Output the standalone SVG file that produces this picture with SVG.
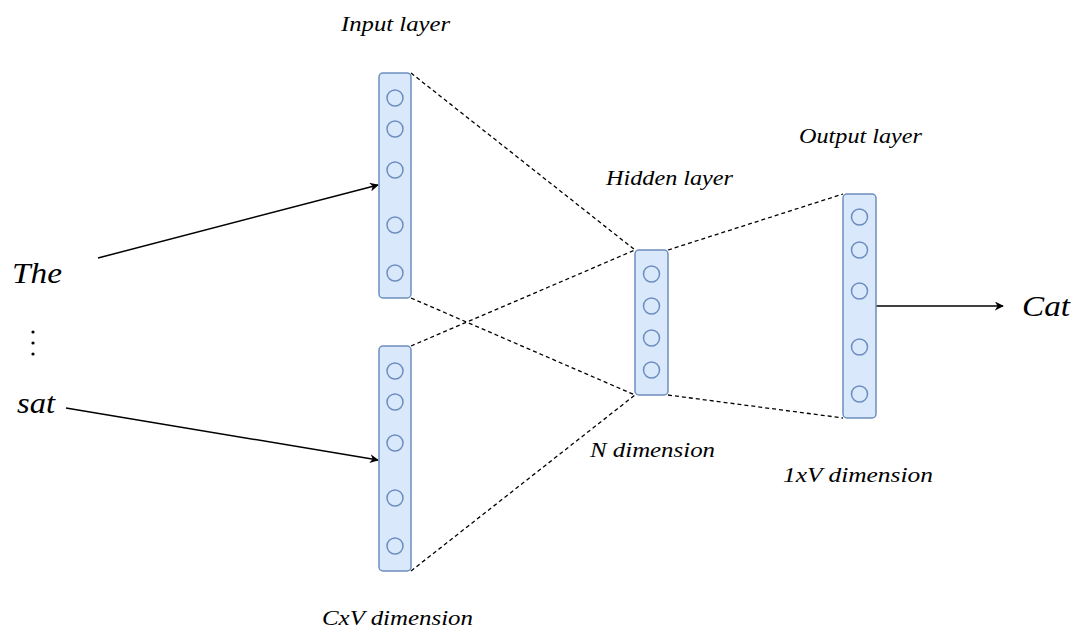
<svg xmlns="http://www.w3.org/2000/svg" width="1075" height="631" viewBox="0 0 1075 631">
<style>
.layer{fill:#dae8fc;stroke:#6c8ebf;stroke-width:1.5}
.node{fill:none;stroke:#6c8ebf;stroke-width:1.5}
.dash{stroke:#000;stroke-width:1.3;stroke-dasharray:4 3;fill:none}
.arrow{stroke:#000;stroke-width:1.5;fill:none;marker-end:url(#ah)}
.lbl{font-family:"Liberation Serif","DejaVu Serif",serif;font-style:italic;font-size:21px;fill:#000}
.word{font-family:"Liberation Serif","DejaVu Serif",serif;font-style:italic;font-size:30px;fill:#000}
</style>
<defs>
<marker id="ah" viewBox="0 0 10 10" refX="9" refY="5" markerWidth="9" markerHeight="9" markerUnits="userSpaceOnUse" orient="auto">
<path d="M0,0 L10,5 L0,10 L3,5 Z" fill="#000"/>
</marker>
</defs>
<rect width="1075" height="631" fill="#fff"/>
<g id="connectors">
<line class="dash" x1="411" y1="73" x2="635" y2="250"/>
<line class="dash" x1="411" y1="298" x2="635" y2="395"/>
<line class="dash" x1="411" y1="346" x2="635" y2="250"/>
<line class="dash" x1="411" y1="571" x2="635" y2="395"/>
<line class="dash" x1="668" y1="250" x2="843" y2="194"/>
<line class="dash" x1="668" y1="395" x2="843" y2="418"/>
<line class="arrow" x1="98" y1="258" x2="378" y2="185"/>
<line class="arrow" x1="66" y1="408" x2="378" y2="460"/>
<line class="arrow" x1="876" y1="306" x2="1003" y2="306"/>
</g>
<g id="input-top">
<rect class="layer" x="379" y="73" width="32" height="225" rx="4"/>
<circle class="node" cx="395" cy="98" r="8"/>
<circle class="node" cx="395" cy="129" r="8"/>
<circle class="node" cx="395" cy="170" r="8"/>
<circle class="node" cx="395" cy="225" r="8"/>
<circle class="node" cx="395" cy="273" r="8"/>
</g>
<g id="input-bottom">
<rect class="layer" x="379" y="346" width="32" height="225" rx="4"/>
<circle class="node" cx="395" cy="371" r="8"/>
<circle class="node" cx="395" cy="402" r="8"/>
<circle class="node" cx="395" cy="443" r="8"/>
<circle class="node" cx="395" cy="498" r="8"/>
<circle class="node" cx="395" cy="546" r="8"/>
</g>
<g id="hidden">
<rect class="layer" x="635" y="250" width="33" height="145" rx="4"/>
<circle class="node" cx="651.5" cy="274" r="8"/>
<circle class="node" cx="651.5" cy="306" r="8"/>
<circle class="node" cx="651.5" cy="338" r="8"/>
<circle class="node" cx="651.5" cy="370" r="8"/>
</g>
<g id="output">
<rect class="layer" x="843" y="194" width="33" height="224" rx="4"/>
<circle class="node" cx="859.5" cy="217" r="8"/>
<circle class="node" cx="859.5" cy="250" r="8"/>
<circle class="node" cx="859.5" cy="291" r="8"/>
<circle class="node" cx="859.5" cy="347" r="8"/>
<circle class="node" cx="859.5" cy="394" r="8"/>
</g>
<g id="labels">
<text class="lbl" x="341" y="31" textLength="109" lengthAdjust="spacingAndGlyphs">Input layer</text>
<text class="lbl" x="606" y="185" textLength="127" lengthAdjust="spacingAndGlyphs">Hidden layer</text>
<text class="lbl" x="799" y="143" textLength="123" lengthAdjust="spacingAndGlyphs">Output layer</text>
<text class="lbl" x="590" y="457" textLength="125" lengthAdjust="spacingAndGlyphs">N dimension</text>
<text class="lbl" x="783" y="482" textLength="150" lengthAdjust="spacingAndGlyphs">1xV dimension</text>
<text class="lbl" x="322" y="625" textLength="151" lengthAdjust="spacingAndGlyphs">CxV dimension</text>
<text class="word" x="12" y="283" textLength="50" lengthAdjust="spacingAndGlyphs">The</text>
<text class="word" x="17" y="413" textLength="38" lengthAdjust="spacingAndGlyphs">sat</text>
<text class="word" x="1022" y="316" textLength="48" lengthAdjust="spacingAndGlyphs">Cat</text>
<circle cx="33" cy="332" r="1.6" fill="#000"/>
<circle cx="33" cy="343" r="1.6" fill="#000"/>
<circle cx="33" cy="354" r="1.6" fill="#000"/>
</g>
</svg>
